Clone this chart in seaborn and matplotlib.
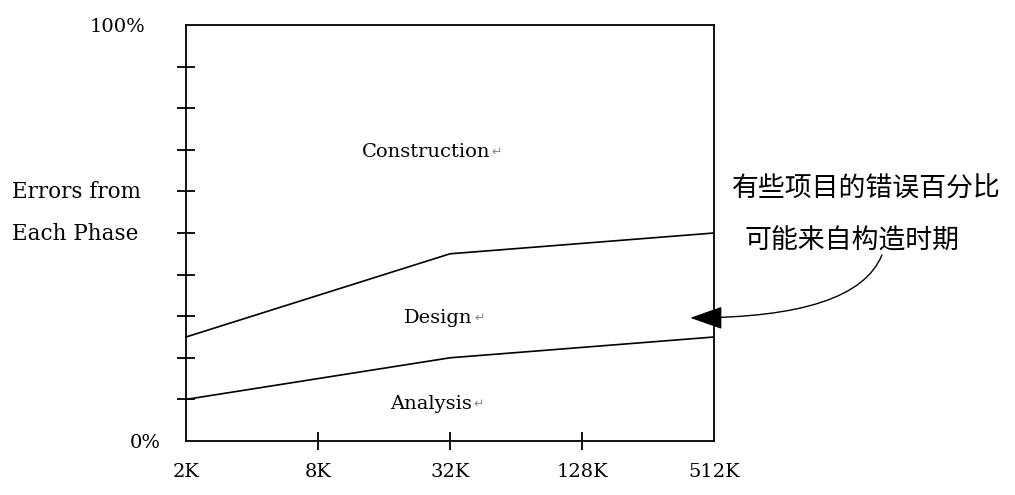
import matplotlib
matplotlib.use("Agg")
import matplotlib.pyplot as plt
import matplotlib.transforms as mtransforms
import seaborn as sns
import pandas as pd

# ---- data ----
sizes = [2, 32, 512]                     # project size in K lines
size_ticks = [2, 8, 32, 128, 512]
size_labels = ["2K", "8K", "32K", "128K", "512K"]
analysis_top = [10, 20, 25]              # % boundary analysis / design
design_top = [25, 45, 50]                # % boundary design / construction
y_ticks = [0, 10, 20, 30, 40, 50, 60, 70, 80, 90, 100]
y_labels = ["0%", "", "", "", "", "", "", "", "", "", "100%"]
region_names = ["Construction", "Design", "Analysis"]
region_y = [69.5, 29.6, 8.9]
region_x = [0.333, 0.413, 0.386]
ylabel_text = "Errors from\nEach Phase"
note_lines = ["有些项目的错误百分比", "可能来自构造时期"]

sns.set_theme(style="white")
plt.rcParams["font.family"] = ["DejaVu Serif", "DejaVu Sans"]
plt.rcParams["text.color"] = "black"
plt.rcParams["axes.labelcolor"] = "black"
plt.rcParams["xtick.color"] = "black"
plt.rcParams["ytick.color"] = "black"

fig = plt.figure(figsize=(10.15, 4.95), dpi=100)
ax = fig.add_axes([186/1015, 54/495, 528/1015, 416/495])

df = pd.DataFrame({
    "size": sizes * 2,
    "pct": analysis_top + design_top,
    "boundary": ["analysis"] * 3 + ["design"] * 3,
})
sns.lineplot(data=df, x="size", y="pct", units="boundary", estimator=None,
             color="black", linewidth=1.2, ax=ax)

ax.set_xscale("log", base=2)
ax.set_xlim(sizes[0], sizes[-1])
ax.set_ylim(0, 100)
ax.set_xticks(size_ticks)
ax.set_xticklabels(size_labels)
ax.xaxis.set_minor_locator(matplotlib.ticker.NullLocator())
ax.set_yticks(y_ticks)
ax.set_yticklabels(y_labels)
ax.set_xlabel("")
ax.set_ylabel("")

for s in ax.spines.values():
    s.set_color("black")
    s.set_linewidth(1.3)

ax.tick_params(axis="x", direction="inout", length=13, width=1.3, colors="black",
               labelsize=14, pad=9, bottom=True)
ax.tick_params(axis="y", direction="inout", length=13, width=1.3, colors="black",
               labelsize=14, pad=12, left=True)
for i in (0, -1):
    ax.xaxis.get_major_ticks()[i].tick1line.set_visible(False)
    ax.yaxis.get_major_ticks()[i].tick1line.set_visible(False)

# shift the 100% label further left
lbl100 = ax.get_yticklabels()[-1]
lbl100.set_transform(lbl100.get_transform() +
                     mtransforms.ScaledTranslation(-15/100, 0, fig.dpi_scale_trans))

# y label
ax.set_ylabel(ylabel_text, rotation=0, ha="left", va="center", fontsize=15.5,
              linespacing=2.2, color="black")
ax.yaxis.set_label_coords(-0.33, 0.548)

# region labels with gray return marks
for name, x, y in zip(region_names, region_x, region_y):
    t = ax.text(x, y, name, transform=ax.get_yaxis_transform(), fontsize=14,
                ha="left", va="center", color="black")
    ax.annotate("↵", xy=(1, 0.5), xycoords=t, xytext=(1, 0),
                textcoords="offset points", ha="left", va="center",
                fontsize=9, color="#888888", family="DejaVu Sans")

# annotation note
cjk = ["Noto Sans CJK SC", "DejaVu Sans"]
ax.text(1.034, 0.606, note_lines[0], transform=ax.transAxes, fontsize=19.4,
        family=cjk, ha="left", va="center", color="black")
ax.text(1.058, 0.481, note_lines[1], transform=ax.transAxes, fontsize=19.4,
        family=cjk, ha="left", va="center", color="black")
ax.annotate("", xy=(0.955, 0.296), xycoords="axes fraction",
            xytext=(1.318, 0.447), textcoords="axes fraction",
            arrowprops=dict(arrowstyle="-|>,head_length=1.7,head_width=0.6",
                            color="black", lw=1.0, shrinkA=0, shrinkB=0,
                            connectionstyle="angle3,angleA=68,angleB=0"),
            annotation_clip=False)

fig.savefig("out.png", dpi=100, facecolor="white")
